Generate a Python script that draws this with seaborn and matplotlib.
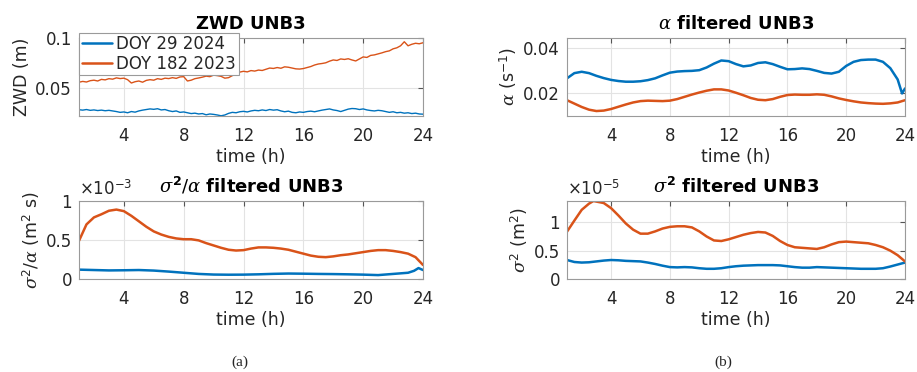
import matplotlib
matplotlib.use("Agg")
import numpy as np
import pandas as pd
import seaborn as sns
import matplotlib.pyplot as plt

sns.set_style("white")
plt.rcParams['font.family'] = ['DejaVu Sans']
plt.rcParams['mathtext.fontset'] = 'custom'
plt.rcParams['mathtext.rm'] = 'DejaVu Sans'
plt.rcParams['mathtext.it'] = 'DejaVu Serif:italic'
plt.rcParams['mathtext.bf'] = 'DejaVu Sans:bold'

BLUE = '#0072BD'
ORANGE = '#D95319'
LABELS = ['DOY 29 2024', 'DOY 182 2023']

# ---------------- data ----------------
t_zwd = [1.00 + 0.25 * i for i in range(93)]
zwd_doy29 = [0.0288, 0.0284, 0.0290, 0.0282, 0.0286, 0.0280, 0.0284, 0.0278, 0.0282, 0.0276,
             0.0270, 0.0262, 0.0266, 0.0258, 0.0270, 0.0264, 0.0276, 0.0284, 0.0290, 0.0296,
             0.0292, 0.0298, 0.0286, 0.0290, 0.0278, 0.0270, 0.0276, 0.0262, 0.0266, 0.0258,
             0.0250, 0.0254, 0.0246, 0.0250, 0.0238, 0.0246, 0.0242, 0.0236, 0.0228, 0.0236,
             0.0252, 0.0262, 0.0258, 0.0268, 0.0272, 0.0266, 0.0276, 0.0282, 0.0278, 0.0286,
             0.0280, 0.0290, 0.0284, 0.0288, 0.0276, 0.0268, 0.0274, 0.0262, 0.0258, 0.0266,
             0.0262, 0.0270, 0.0274, 0.0268, 0.0276, 0.0284, 0.0290, 0.0296, 0.0286, 0.0280,
             0.0270, 0.0282, 0.0294, 0.0300, 0.0298, 0.0290, 0.0296, 0.0286, 0.0280, 0.0276,
             0.0282, 0.0278, 0.0270, 0.0262, 0.0268, 0.0258, 0.0262, 0.0254, 0.0258, 0.0250,
             0.0254, 0.0246, 0.0244]
zwd_doy182 = [0.0560, 0.0568, 0.0562, 0.0575, 0.0580, 0.0572, 0.0588, 0.0583, 0.0595, 0.0590,
              0.0603, 0.0596, 0.0600, 0.0585, 0.0552, 0.0565, 0.0572, 0.0560, 0.0578, 0.0585,
              0.0580, 0.0595, 0.0588, 0.0600, 0.0596, 0.0605, 0.0598, 0.0612, 0.0615, 0.0572,
              0.0580, 0.0595, 0.0602, 0.0610, 0.0620, 0.0615, 0.0630, 0.0625, 0.0618, 0.0600,
              0.0605, 0.0625, 0.0640, 0.0660, 0.0668, 0.0662, 0.0675, 0.0670, 0.0680, 0.0676,
              0.0688, 0.0700, 0.0696, 0.0705, 0.0698, 0.0712, 0.0708, 0.0700, 0.0692, 0.0690,
              0.0695, 0.0705, 0.0715, 0.0730, 0.0740, 0.0745, 0.0752, 0.0768, 0.0780, 0.0775,
              0.0790, 0.0785, 0.0792, 0.0780, 0.0770, 0.0790, 0.0810, 0.0805, 0.0825, 0.0830,
              0.0840, 0.0850, 0.0862, 0.0870, 0.0890, 0.0900, 0.0920, 0.0960, 0.0920, 0.0935,
              0.0945, 0.0940, 0.0950]

t_alpha_29 = [1, 1.5, 2, 2.5, 3, 3.5, 4, 4.5, 5, 5.5, 6, 6.5, 7, 7.5, 8, 8.5, 9, 9.5, 10,
              10.5, 11, 11.5, 12, 12.5, 13, 13.5, 14, 14.5, 15, 15.5, 16, 16.5, 17, 17.5, 18,
              18.5, 19, 19.5, 20, 20.5, 21, 21.5, 22, 22.5, 23, 23.5, 23.8, 24]
alpha_29 = [0.0267, 0.0290, 0.0296, 0.0290, 0.0278, 0.0268, 0.0260, 0.0255, 0.0252, 0.0252,
            0.0254, 0.0259, 0.0267, 0.0280, 0.0292, 0.0297, 0.0299, 0.0300, 0.0303, 0.0315,
            0.0332, 0.0346, 0.0343, 0.0330, 0.0320, 0.0324, 0.0335, 0.0338, 0.0330, 0.0318,
            0.0307, 0.0308, 0.0311, 0.0308, 0.0300, 0.0291, 0.0288, 0.0296, 0.0322, 0.0340,
            0.0348, 0.0350, 0.0350, 0.0340, 0.0312, 0.0262, 0.0200, 0.0222]
t_alpha_182 = [1, 1.5, 2, 2.5, 3, 3.5, 4, 4.5, 5, 5.5, 6, 6.5, 7, 7.5, 8, 8.5, 9, 9.5, 10,
               10.5, 11, 11.5, 12, 12.5, 13, 13.5, 14, 14.5, 15, 15.5, 16, 16.5, 17, 17.5, 18,
               18.5, 19, 19.5, 20, 20.5, 21, 21.5, 22, 22.5, 23, 23.5, 24]
alpha_182 = [0.0170, 0.0155, 0.0140, 0.0128, 0.0122, 0.0124, 0.0131, 0.0141, 0.0151, 0.0160,
             0.0166, 0.0168, 0.0167, 0.0166, 0.0168, 0.0175, 0.0185, 0.0195, 0.0204, 0.0212,
             0.0218, 0.0218, 0.0213, 0.0203, 0.0192, 0.0180, 0.0172, 0.0170, 0.0175, 0.0185,
             0.0193, 0.0195, 0.0194, 0.0194, 0.0196, 0.0194, 0.0187, 0.0178, 0.0171, 0.0165,
             0.0160, 0.0157, 0.0155, 0.0154, 0.0156, 0.0160, 0.0170]

# sigma^2/alpha in units of 1e-3 m^2 s
t_sa_29 = [1, 2, 3, 4, 5, 6, 7, 8, 9, 10, 11, 12, 13, 14, 15, 16, 17, 18, 19, 20, 21, 22, 23,
           23.4, 23.7, 24]
sa_29 = [0.12, 0.115, 0.11, 0.112, 0.115, 0.108, 0.095, 0.08, 0.065, 0.057, 0.055, 0.056,
         0.06, 0.066, 0.07, 0.068, 0.065, 0.063, 0.06, 0.056, 0.05, 0.065, 0.08, 0.105, 0.14,
         0.115]
t_sa_182 = [1, 1.5, 2, 2.5, 3, 3.5, 4, 4.5, 5, 5.5, 6, 6.5, 7, 7.5, 8, 8.5, 9, 9.5, 10, 10.5,
            11, 11.5, 12, 12.5, 13, 13.5, 14, 14.5, 15, 15.5, 16, 16.5, 17, 17.5, 18, 18.5,
            19, 19.5, 20, 20.5, 21, 21.5, 22, 22.5, 23, 23.5, 24]
sa_182 = [0.49, 0.70, 0.79, 0.83, 0.875, 0.89, 0.87, 0.81, 0.74, 0.67, 0.61, 0.57, 0.54, 0.52,
          0.51, 0.51, 0.495, 0.46, 0.43, 0.40, 0.375, 0.365, 0.37, 0.39, 0.405, 0.405, 0.40,
          0.39, 0.375, 0.35, 0.325, 0.30, 0.285, 0.28, 0.29, 0.305, 0.315, 0.33, 0.345, 0.36,
          0.37, 0.37, 0.36, 0.345, 0.325, 0.28, 0.18]

# sigma^2 in units of 1e-5 m^2
t_s2_29 = [1, 1.5, 2, 2.5, 3, 3.5, 4, 4.5, 5, 5.5, 6, 6.5, 7, 7.5, 8, 8.5, 9, 9.5, 10, 10.5,
           11, 11.5, 12, 12.5, 13, 13.5, 14, 14.5, 15, 15.5, 16, 16.5, 17, 17.5, 18, 18.5, 19,
           19.5, 20, 20.5, 21, 21.5, 22, 22.5, 23, 23.5, 24]
s2_29 = [0.335, 0.30, 0.29, 0.295, 0.31, 0.325, 0.335, 0.33, 0.32, 0.315, 0.31, 0.29, 0.265,
         0.235, 0.21, 0.205, 0.21, 0.205, 0.19, 0.18, 0.18, 0.19, 0.21, 0.225, 0.235, 0.24,
         0.245, 0.245, 0.245, 0.24, 0.225, 0.21, 0.20, 0.20, 0.21, 0.205, 0.20, 0.195, 0.19,
         0.185, 0.18, 0.18, 0.18, 0.19, 0.22, 0.255, 0.29]
t_s2_182 = [1, 1.5, 2, 2.5, 2.8, 3.5, 4, 4.5, 5, 5.5, 6, 6.5, 7, 7.5, 8, 8.5, 9, 9.5, 10, 10.5,
            11, 11.5, 12, 12.5, 13, 13.5, 14, 14.5, 15, 15.5, 16, 16.5, 17, 17.5, 18, 18.5, 19,
            19.5, 20, 20.5, 21, 21.5, 22, 22.5, 23, 23.5, 24]
s2_182 = [0.835, 1.03, 1.22, 1.33, 1.376, 1.34, 1.25, 1.12, 0.98, 0.87, 0.80, 0.80, 0.84, 0.89,
          0.92, 0.93, 0.93, 0.91, 0.84, 0.75, 0.68, 0.67, 0.70, 0.74, 0.78, 0.81, 0.83, 0.82,
          0.76, 0.67, 0.60, 0.56, 0.55, 0.54, 0.53, 0.56, 0.61, 0.65, 0.66, 0.65, 0.64, 0.63,
          0.60, 0.56, 0.50, 0.42, 0.31]

xticks = [4, 8, 12, 16, 20, 24]

# ---------------- figure ----------------
W, H = 917, 372
fig = plt.figure(figsize=(W / 100, H / 100), dpi=100)


def px_axes(x0, x1, y0, y1):
    return fig.add_axes([x0 / W, 1 - y1 / H, (x1 - x0) / W, (y1 - y0) / H])


ax_tl = px_axes(79, 423, 37.7, 116)
ax_tr = px_axes(567, 905, 37.7, 116)
ax_bl = px_axes(79, 423, 201, 279)
ax_br = px_axes(567, 905, 201, 279)

SPINE = '#9a9a9a'
TXT = '#262626'
TICK_FS = 12


def style(ax, ylim, yticks, yticklabels, ylabel, title):
    ax.set_xlim(1, 24)
    ax.set_ylim(*ylim)
    ax.set_xticks(xticks)
    ax.set_xticklabels([str(v) for v in xticks])
    ax.set_yticks(yticks)
    ax.set_yticklabels(yticklabels)
    ax.grid(True, color='#e3e3e3', lw=0.8)
    ax.set_axisbelow(True)
    for s in ax.spines.values():
        s.set_visible(True)
        s.set_color(SPINE)
        s.set_linewidth(0.8)
    ax.tick_params(direction='in', top=True, right=True, length=3.5, width=0.8,
                   color='#555555', labelcolor=TXT, labelsize=TICK_FS)
    ax.tick_params(axis='x', pad=8)
    ax.tick_params(axis='y', pad=5)
    ax.set_xlabel('time (h)', fontsize=12.5, color=TXT, labelpad=2)
    ax.set_ylabel(ylabel, fontsize=12.5, color=TXT, labelpad=3)
    ax.set_title(title, fontsize=13, fontweight='bold', color='black', pad=6)


# ZWD
sns.lineplot(x=t_zwd, y=zwd_doy29, ax=ax_tl, color=BLUE, lw=1.0, label=LABELS[0])
sns.lineplot(x=t_zwd, y=zwd_doy182, ax=ax_tl, color=ORANGE, lw=1.0, label=LABELS[1])
style(ax_tl, (0.0226, 0.1), [0.05, 0.1], ['0.05', '0.1'], 'ZWD (m)', 'ZWD UNB3')
leg = ax_tl.legend(loc='upper left', bbox_to_anchor=(0.0, 1.066), fontsize=12,
                   frameon=True, fancybox=False, framealpha=1, edgecolor='#9a9a9a',
                   handlelength=1.8, handletextpad=0.3, labelspacing=0.1,
                   borderpad=0.15, borderaxespad=0)
leg.get_frame().set_linewidth(0.8)
for line in leg.get_lines():
    line.set_linewidth(1.8)
for txt in leg.get_texts():
    txt.set_color(TXT)

# alpha
sns.lineplot(x=t_alpha_29, y=alpha_29, ax=ax_tr, color=BLUE, lw=1.8)
sns.lineplot(x=t_alpha_182, y=alpha_182, ax=ax_tr, color=ORANGE, lw=1.8)
style(ax_tr, (0.010, 0.0447), [0.02, 0.04], ['0.02', '0.04'],
      r'$\alpha$ (s$^{-1}$)', r'$\alpha$ filtered UNB3')

# sigma^2/alpha
sns.lineplot(x=t_sa_29, y=sa_29, ax=ax_bl, color=BLUE, lw=1.8)
sns.lineplot(x=t_sa_182, y=sa_182, ax=ax_bl, color=ORANGE, lw=1.8)
style(ax_bl, (0, 1.0), [0, 0.5, 1.0], ['0', '0.5', '1'],
      r'$\sigma^2/\alpha$ (m$^2$ s)', r'$\sigma^{\mathbf{2}}/\alpha$ filtered UNB3')
ax_bl.text(0.0, 1.03, r'$\times$10$^{-3}$', transform=ax_bl.transAxes, fontsize=12,
           color=TXT, ha='left', va='bottom')

# sigma^2
sns.lineplot(x=t_s2_29, y=s2_29, ax=ax_br, color=BLUE, lw=1.8)
sns.lineplot(x=t_s2_182, y=s2_182, ax=ax_br, color=ORANGE, lw=1.8)
style(ax_br, (0, 1.376), [0, 0.5, 1.0], ['0', '0.5', '1'],
      r'$\sigma^2$ (m$^2$)', r'$\sigma^{\mathbf{2}}$ filtered UNB3')
ax_br.text(0.0, 1.03, r'$\times$10$^{-5}$', transform=ax_br.transAxes, fontsize=12,
           color=TXT, ha='left', va='bottom')

fig.text(240 / W, 1 - 362 / H, '(a)', family='Liberation Serif', fontsize=11,
         ha='center', va='center', color=TXT)
fig.text(723 / W, 1 - 362 / H, '(b)', family='Liberation Serif', fontsize=11,
         ha='center', va='center', color=TXT)

fig.savefig('out.png', dpi=100, facecolor='white')
